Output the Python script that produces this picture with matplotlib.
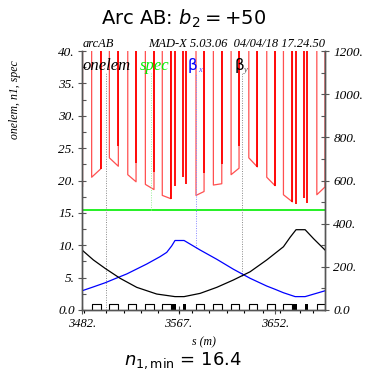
import numpy as np
import matplotlib
matplotlib.use("Agg")
import matplotlib.pyplot as plt

# ---- data ----
# dipoles: aperture n1 at entry / exit (U shapes of the onelem curve)
dip_s_in = [3490.5, 3506.1, 3522.3, 3537.8, 3552.7, 3582.4, 3597.7, 3613.3, 3628.9, 3644.7, 3659.4, 3688.8]
dip_n1_in = [20.5, 23.5, 20.9, 19.4, 17.7, 17.7, 19.3, 20.9, 23.5, 20.5, 17.8, 17.8]
dip_s_out = [3498.5, 3514.0, 3529.6, 3545.4, 3560.1, 3589.5, 3605.1, 3620.3, 3636.4, 3652.0, 3667.3, 3696.0]
dip_n1_out = [21.8, 22.2, 19.8, 18.6, 17.2, 18.3, 19.5, 21.9, 22.1, 19.2, 16.7, 19.0]
n1_start = 19.0

# short elements (dark red spikes)
spike_s = [3498.5, 3514.0, 3529.6, 3545.4, 3560.1, 3563.9, 3571.3, 3573.6, 3589.5,
           3605.1, 3620.3, 3636.4, 3652.0, 3667.3, 3670.5, 3677.9, 3680.5]
spike_n1 = [21.8, 25.3, 22.7, 21.3, 17.2, 19.1, 20.5, 19.4, 21.1,
            22.6, 25.3, 22.1, 19.2, 16.7, 16.4, 17.3, 16.6]

spec = 15.4

betx_s = [3482.0, 3492.0, 3502.3, 3512.0, 3521.4, 3530.2, 3539.0, 3550.7, 3556.6, 3561.0,
          3563.9, 3571.9, 3586.0, 3600.7, 3615.3, 3630.0, 3644.7, 3652.0, 3659.4, 3669.7,
          3678.5, 3696.0]
betx = [89, 107, 126, 147, 167, 190, 213, 247, 267, 297, 322, 322, 278, 235, 189, 147,
        111, 96, 80, 62, 62, 89]

bety_s = [3482.0, 3492.0, 3502.3, 3515.5, 3530.2, 3547.8, 3563.9, 3571.9, 3586.0,
          3600.7, 3615.3, 3630.0, 3644.7, 3659.4, 3665.3, 3670.5, 3678.5, 3686.0, 3696.0]
bety = [278, 232, 193, 147, 105, 74, 62, 62, 77, 105, 139, 177, 232, 293, 337, 372, 372, 330, 278]

# layout markers
quad_s0 = [3561.0, 3571.0, 3667.5, 3678.0]
quad_s1 = [3565.0, 3574.0, 3671.0, 3681.0]
corr_s = [3484.0, 3503.4, 3519.0, 3534.3, 3549.0, 3567.7, 3578.7, 3594.2, 3609.5,
          3625.0, 3641.0, 3656.0, 3674.0, 3685.0]

x_ticks = [3482, 3567, 3652]
y_ticks = [0, 5, 10, 15, 20, 25, 30, 35, 40]
y_labels = ["0.0", "5.", "10.", "15.", "20.", "25.", "30.", "35.", "40."]
y2_ticks = [0, 200, 400, 600, 800, 1000, 1200]
y2_labels = ["0.0", "200.", "400.", "600.", "800.", "1000.", "1200."]

TOP = 45.0
serif = dict(family="Liberation Serif", style="italic")

fig = plt.figure(figsize=(3.68, 3.76), dpi=100)
ax = fig.add_axes([82 / 368, 66 / 376, 243 / 368, 259 / 376])
ax.set_xlim(3482, 3696)
ax.set_ylim(0, 40)

# onelem polyline
xs, ys = [3482.0, 3482.0], [n1_start, TOP]
for a, na, b, nb in zip(dip_s_in, dip_n1_in, dip_s_out, dip_n1_out):
    xs += [a, a, b, b]
    ys += [TOP, na, nb, TOP]
ax.plot(xs, ys, color="#ff5050", lw=0.9)
ax.vlines(spike_s, spike_n1, TOP, color="#ff0000", lw=1.3)
ax.vlines([3482.0], n1_start, TOP, color="#e00000", lw=1.6)

ax.axhline(spec, color="#00ee00", lw=1.2)

# layout: dipoles, quads, correctors
h = 1.0
for a, b in zip(dip_s_in, dip_s_out):
    ax.plot([a, a, b, b], [0, h, h, 0], color="black", lw=0.8)
for a, b in zip(quad_s0, quad_s1):
    ax.fill_between([a, b], 0, h, color="black", lw=0)
ax.vlines(corr_s, -0.5, 0, color="black", lw=0.8, clip_on=False)

# legend labels with dotted leader lines
lab_y = 36.6
ax.text(3482.8, lab_y + 0.5, "onelem", color="black", fontsize=12, **serif)
ax.text(3532.5, lab_y + 0.5, "spec", color="#00ee00", fontsize=12, **serif)
ax.text(3575.4, lab_y + 0.5, "β", color="blue", fontsize=11, family="DejaVu Sans")
ax.text(3584.0, lab_y + 0.2, "x", color="#4444ff", fontsize=6, **serif)
ax.text(3616.0, lab_y + 0.5, "β", color="black", fontsize=11, family="DejaVu Sans")
ax.text(3624.6, lab_y + 0.2, "y", color="#444444", fontsize=6, **serif)
ax.vlines(3502.9, 0, lab_y, color="#888888", lw=0.7, linestyles=(0, (1, 1.5)))
ax.vlines(3542.8, spec, lab_y, color="#99ee99", lw=0.7, linestyles=(0, (1, 1.5)))
ax.vlines(3582.4, np.interp(3582.4, betx_s, betx) / 30, lab_y, color="#8888ff", lw=0.7,
          linestyles=(0, (1, 1.5)))
ax.vlines(3622.7, np.interp(3622.7, bety_s, bety) / 30, lab_y, color="#888888", lw=0.7,
          linestyles=(0, (1, 1.5)))

ax2 = ax.twinx()
ax2.set_ylim(0, 1200)
ax2.plot(betx_s, betx, color="blue", lw=0.9)
ax2.plot(bety_s, bety, color="black", lw=0.9)

for a in (ax, ax2):
    a.spines["top"].set_visible(False)
    for k in ("left", "right", "bottom"):
        a.spines[k].set_color("#555555")
        a.spines[k].set_linewidth(1.0)

ax.set_xticks(x_ticks, labels=[f"{t}." for t in x_ticks], fontsize=9, **serif)
ax.set_yticks(y_ticks, labels=y_labels, fontsize=9.5, **serif)
ax.set_yticks(np.arange(2.5, 40, 5), minor=True)
ax2.set_yticks(y2_ticks, labels=y2_labels, fontsize=9.5, **serif)
ax2.set_yticks(np.arange(100, 1200, 200), minor=True)
ax.tick_params(axis="both", which="major", direction="inout", length=6, width=0.8,
               color="#555555", pad=2)
ax.tick_params(axis="x", pad=2.5)
ax.tick_params(axis="y", which="minor", direction="in", length=3, width=0.8, color="#555555")
ax2.tick_params(axis="y", which="major", direction="inout", length=6, width=0.8,
                color="#555555", pad=3)
ax2.tick_params(axis="y", which="minor", direction="in", length=3, width=0.8, color="#555555")

ax.set_xlabel("s (m)", fontsize=8.5, labelpad=5, **serif)
fig.text(15 / 368, 1 - 100 / 376, "onelem, n1, spec", rotation=90, ha="center", va="center",
         fontsize=8.5, **serif)
fig.text(83 / 368, 1 - 47 / 376, "arcAB", fontsize=9, **serif)
fig.text(325 / 368, 1 - 47 / 376, "MAD-X 5.03.06  04/04/18 17.24.50", ha="right", fontsize=9, **serif)

fig.text(0.5, 1 - 19 / 376, r"Arc AB: $b_2 = +50$", ha="center", va="center", fontsize=14)
fig.text(183 / 368, 1 - 361 / 376, r"$n_{1,\mathrm{min}}$ = 16.4", ha="center", va="center",
         fontsize=13)

fig.savefig("out.png", dpi=100)
